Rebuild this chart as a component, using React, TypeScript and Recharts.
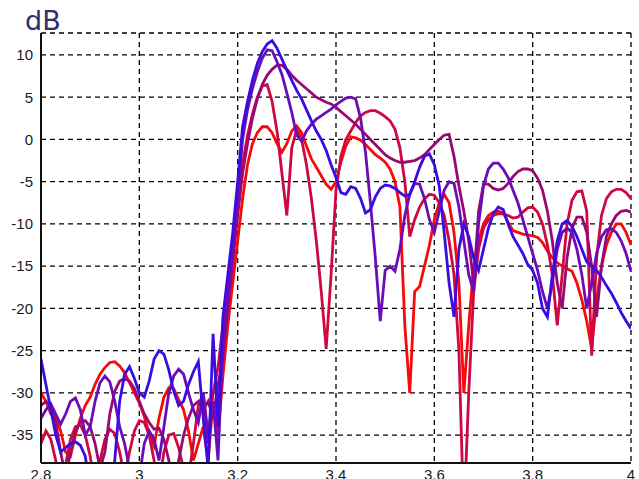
import React from "react";
import { LineChart, Line, XAxis, YAxis, CartesianGrid } from "recharts";

// Frequency grid (GHz), 2.80 .. 4.00 in 0.01 steps
const freqGHz: number[] = Array.from({ length: 121 }, (_, i) => Math.round((2.8 + i * 0.01) * 100) / 100);

// Gain traces in dB, one value per frequency point
const redDb = [
  -30, -31, -32.5, -33, -34.5, -37, -37.5, -35, -33, -31.5,
  -30.5, -29, -27.8, -27, -26.4, -26.3, -26.8, -27.6, -28.8, -30,
  -31.2, -32.8, -34.8, -36.3, -33, -30.5, -29.4, -29.5, -30.8, -32,
  -34.5, -38, -36, -34, -38, -31, -35, -28, -22, -17,
  -12, -7, -3, -0.5, 0.8, 1.5, 1.5, 0.8, -0.5, -1.5,
  -0.5, 1, 1.6, 0.8, -0.8, -2.3, -3.3, -4.3, -5.3, -5.9,
  -5, -2.7, -0.8, 0.3, 0.2, -0.1, -0.6, -1.2, -1.8, -2.2,
  -2.7, -3.5, -5, -8, -22, -30, -18, -17.4, -15, -12.5,
  -9.5, -7.5, -6.5, -7.5, -11, -17, -30, -22, -15, -12,
  -10, -9, -8.6, -8.5, -8.7, -9.8, -10.8, -11, -11.2, -11.3,
  -11.4, -11.6, -12.2, -13.2, -14, -14.6, -15, -15.3, -15.6, -17,
  -19, -21.5, -24.8, -19, -15, -12.5, -11, -10, -10, -11,
  -12.5,
];

const crimsonDb = [
  -36, -34.5, -35.5, -38, -41, -38.5, -35.5, -34, -33.8, -35,
  -37.5, -41, -38, -35.5, -34.3, -34.8, -37, -40, -37, -34.5,
  -33.3, -33.5, -35, -38, -41, -37, -35, -34.8, -36.5, -39,
  -40, -36, -31.5, -30, -35, -30, -27, -22, -18, -13,
  -8, -3, 0.5, 3, 5, 6.3, 6.5, 4.5, 1, -4,
  -9, -1, 1.2, 0, -3, -7, -12, -18, -24.8, -16,
  -6, -2, 0, 1, 2, 2.8, 3.2, 3.4, 3.4, 3.1,
  2.7, 2.2, 1.2, -1, -5, -11.5, -9.5, -8, -7, -6.5,
  -6.6, -7.5, -9, -12, -16, -25, -45, -30, -18, -13,
  -10.5, -9.5, -9, -8.8, -8.8, -9, -9.3, -9.2, -8.6, -8.1,
  -8, -8.6, -10, -12.5, -16, -22, -16, -10, -7.2, -6.2,
  -6.1, -8.5, -25.6, -14, -9, -7, -6.2, -5.9, -5.9, -6.3,
  -7,
];

const magentaDb = [
  -31.5, -31, -31.5, -33.5, -37, -40, -37, -34.5, -33.5, -33.3,
  -34, -36, -39, -37, -32.5, -29.8, -28.6, -28.3, -28.6, -29.5,
  -31, -32.5, -33.5, -34.3, -34.2, -35.5, -38, -41, -38, -35,
  -33, -31.5, -31, -32, -31, -33, -29, -26, -20, -14.5,
  -9, -4, -0.5, 2.5, 4.8, 6.5, 7.6, 8.3, 8.8, 8.8,
  8.3, 7.6, 7, 6.5, 6, 5.5, 5, 4.7, 4.4, 4.2,
  3.8, 3.3, 2.8, 2.3, 1.8, 1.2, 0.6, 0, -0.6, -1.2,
  -1.8, -2.2, -2.5, -2.7, -2.7, -2.6, -2.5, -2.2, -1.8, -1.2,
  -0.6, 0, 0.5, 0.6, -2, -5.5, -8.5, -12, -17, -8.5,
  -5.3, -5.3, -5.8, -6, -5.8, -5.2, -4.4, -3.8, -3.5, -3.5,
  -3.7, -4.6, -6, -8.5, -12, -17, -20, -14, -10.5, -9.2,
  -9.2, -11, -15, -21, -15, -11.5, -10, -9, -8.5, -8.4,
  -8.6,
];

const violetDb = [
  -33, -32, -31.3, -32.5, -33.7, -32.5, -31, -30.6, -32, -35,
  -34, -31, -28.8, -28, -28.7, -31, -34, -36, -39, -42,
  -40, -36, -34.5, -35.5, -38, -34, -30, -28, -27.2, -27.8,
  -30, -32, -33.5, -30, -36, -31, -38, -24, -19, -13,
  -7, 0, 3.5, 6, 8, 9.6, 10.6, 10.5, 9.2, 7.7,
  5.5, 3.2, 0.5, -0.2, 1, 1.8, 2.4, 2.8, 3.2, 3.6,
  4.1, 4.5, 4.9, 5, 4.8, 2.5, -1.5, -7.5, -14, -21.5,
  -15.5, -15, -15.6, -13, -9, -6.5, -5.2, -5.3, -7, -9.5,
  -11, -8.5, -6, -5, -5.2, -8, -12, -16, -18, -10,
  -5.5, -3.5, -2.8, -2.8, -3.5, -4.5, -6, -7.5, -9.5, -11.5,
  -13.5, -15.5, -18, -20, -17, -13, -11, -10.5, -11, -13,
  -16, -20, -17, -13.5, -11.5, -10.7, -10.6, -11, -12, -13.5,
  -15.6,
];

const blueDb = [
  -26, -29, -32, -35, -37, -36.5, -36, -35.8, -36.2, -37.5,
  -41, -45, -45, -45, -44, -38, -31, -27.8, -26.9, -28.3,
  -30, -30.5, -28.6, -26, -25, -25.4, -27.3, -29.8, -31.5, -31,
  -29, -27.5, -26.3, -33, -39, -23, -34, -21, -16, -11,
  -5, 1.5, 4.5, 7, 9, 10.4, 11.3, 11.7, 10.8, 9.5,
  8.2, 7, 5.8, 4.8, 3.5, 2.2, 1, 0, -1.3, -3,
  -4.5, -6.3, -6.5, -5.6, -5.8, -7, -8.7, -8.3, -6.8, -5.8,
  -5.4, -5.5, -5.8, -6.3, -6.7, -6.5, -5, -3.3, -2, -1.7,
  -3, -5.5, -11, -17, -21, -13, -10, -11.5, -14, -15.5,
  -13, -10.5, -8.8, -8, -8.3, -10, -11.5, -12.5, -13.5, -14.8,
  -15.5, -17, -20, -21, -16, -12, -10, -9.6, -10.3, -11.5,
  -13, -14.5, -15, -15.5, -16.3, -17.3, -18.2, -19.3, -20.5, -21.5,
  -22.4,
];

const xTicks = [2.8, 3, 3.2, 3.4, 3.6, 3.8, 4];
const yTicks = [-35, -30, -25, -20, -15, -10, -5, 0, 5, 10];

const rows = freqGHz.map((f, i) => ({
  f,
  red: redDb[i],
  crimson: crimsonDb[i],
  magenta: magentaDb[i],
  violet: violetDb[i],
  blue: blueDb[i],
}));

const series = [
  { key: "red", color: "#f80a0a" },
  { key: "crimson", color: "#cf0840" },
  { key: "magenta", color: "#980a72" },
  { key: "violet", color: "#6c0cb6" },
  { key: "blue", color: "#3a0ce2" },
];

const tickStyle = { fill: "#1a1a1a", fontSize: 15, fontFamily: "'Liberation Sans', Arial, sans-serif" };

export default function App() {
  return (
    <div style={{ position: "fixed", left: 0, top: 0, width: 639, height: 479, background: "#fff", overflow: "hidden" }}>
      <LineChart width={639} height={479} data={rows} margin={{ top: 33, right: 8, bottom: 0, left: 0 }}>
        <CartesianGrid stroke="#000" strokeDasharray="5 4" strokeWidth={1.3} />
        <XAxis
          dataKey="f"
          type="number"
          domain={[2.8, 4]}
          ticks={xTicks}
          allowDataOverflow
          height={16}
          tickSize={0}
          tickMargin={6}
          tickLine={false}
          axisLine={{ stroke: "#111", strokeWidth: 2 }}
          tick={tickStyle}
          interval={0}
        />
        <YAxis
          type="number"
          domain={[-38.3, 12.6]}
          ticks={yTicks}
          allowDataOverflow
          width={41}
          tickSize={0}
          tickMargin={8}
          tickLine={false}
          axisLine={{ stroke: "#111", strokeWidth: 2 }}
          tick={tickStyle}
          interval={0}
        />
        {series.map((s) => (
          <Line
            key={s.key}
            dataKey={s.key}
            type="linear"
            stroke={s.color}
            strokeWidth={2.8}
            dot={false}
            activeDot={false}
            isAnimationActive={false}
          />
        ))}
      </LineChart>
      <div
        style={{
          position: "absolute",
          left: 25,
          top: 7,
          fontSize: 27,
          lineHeight: "27px",
          fontFamily: "'DejaVu Sans', Arial, sans-serif",
          color: "#2f2f6e",
        }}
      >
        dB
      </div>
    </div>
  );
}
